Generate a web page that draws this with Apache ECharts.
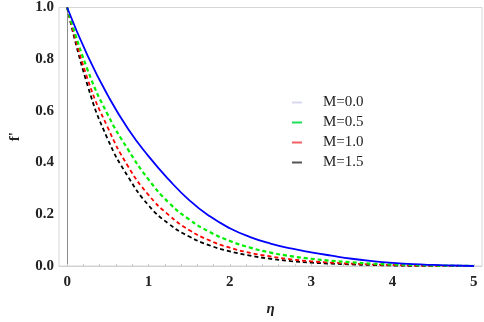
<!DOCTYPE html>
<html>
<head>
<meta charset="utf-8">
<script src="https://cdn.jsdelivr.net/npm/echarts@6/dist/echarts.min.js"></script>
<style>
  html, body { margin: 0; padding: 0; background: #fff; }
  #chart { width: 484px; height: 322px; }
</style>
</head>
<body>
<div id="chart"></div>
<script>
// eta grid and f' values
var eta = [0, 0.25, 0.5, 0.75, 1.0, 1.25, 1.5, 1.75, 2.0, 2.25, 2.5, 2.75, 3.0, 3.25, 3.5, 3.75, 4.0, 4.25, 4.5, 4.75, 5.0];
var fM00 = [1.0, 0.815, 0.66, 0.53, 0.425, 0.334, 0.255, 0.193, 0.146, 0.112, 0.087, 0.068, 0.053, 0.04, 0.028, 0.019, 0.012, 0.007, 0.004, 0.002, 0.0];
var fM05 = [1.0, 0.76, 0.585, 0.45, 0.335, 0.245, 0.18, 0.132, 0.097, 0.071, 0.052, 0.038, 0.028, 0.02, 0.014, 0.009, 0.006, 0.004, 0.002, 0.001, 0.0];
var fM10 = [1.0, 0.725, 0.535, 0.385, 0.275, 0.197, 0.139, 0.099, 0.071, 0.051, 0.037, 0.026, 0.018, 0.013, 0.009, 0.006, 0.004, 0.002, 0.001, 0.0, 0.0];
var fM15 = [1.0, 0.70, 0.49, 0.345, 0.235, 0.163, 0.114, 0.08, 0.057, 0.04, 0.028, 0.019, 0.013, 0.009, 0.006, 0.004, 0.002, 0.001, 0.001, 0.0, 0.0];
var names = ['M=0.0', 'M=0.5', 'M=1.0', 'M=1.5'];
var xLabels = [0, 1, 2, 3, 4, 5];
var xMinor = [0, 0.2, 0.4, 0.6, 0.8, 1, 1.2, 1.4, 1.6, 1.8, 2, 2.2, 2.4, 2.6, 2.8, 3, 3.2, 3.4, 3.6, 3.8, 4, 4.2, 4.4, 4.6, 4.8, 5];

function pairs(ys) {
    return eta.map(function (x, i) { return [x, ys[i]]; });
}

var serif = '"Liberation Serif", "DejaVu Serif", serif';
var chart = echarts.init(document.getElementById('chart'), null, { renderer: 'canvas' });

var option = {
    animation: false,
    grid: {
        left: 43, right: 2, top: 7, bottom: 45,
        show: true, borderColor: '#d6d6d6', borderWidth: 1
    },
    legend: {
        orient: 'vertical',
        left: 287, top: 90,
        itemWidth: 10, itemHeight: 2, itemGap: 5,
        textStyle: { fontFamily: serif, fontSize: 15, color: '#222', padding: [0, 0, 0, 16] },
        data: [
            { name: names[0], icon: 'rect', itemStyle: { color: '#d8d8ee' } },
            { name: names[1], icon: 'rect', itemStyle: { color: '#1fe05a' } },
            { name: names[2], icon: 'rect', itemStyle: { color: '#f46060' } },
            { name: names[3], icon: 'rect', itemStyle: { color: '#555' } }
        ]
    },
    xAxis: {
        type: 'value',
        min: -0.1, max: 5.1,
        name: 'η', nameLocation: 'middle', nameGap: 36,
        nameTextStyle: { fontFamily: serif, fontSize: 15, fontStyle: 'italic', fontWeight: 'bold', color: '#222' },
        axisLine: { show: true, lineStyle: { color: '#d0d0d0', width: 1 } },
        axisTick: { show: true, inside: true, length: 2, customValues: xMinor, lineStyle: { color: '#c8c8c8' } },
        axisLabel: { customValues: xLabels, margin: 9, fontFamily: serif, fontSize: 15, fontWeight: 'bold', color: '#222' },
        splitLine: { show: false }
    },
    yAxis: {
        type: 'value',
        min: 0, max: 1, interval: 0.2,
        name: "f'", nameLocation: 'middle', nameGap: 36, nameRotate: 90,
        nameTextStyle: { fontFamily: serif, fontSize: 15, fontWeight: 'bold', color: '#222' },
        axisLine: { show: true, lineStyle: { color: '#8c8c8c', width: 1 } },
        axisTick: { show: false },
        axisLabel: {
            margin: 5, fontFamily: serif, fontSize: 15, fontWeight: 'bold', color: '#222',
            formatter: function (v) { return v.toFixed(1); }
        },
        splitLine: { show: false }
    },
    series: [
        {
            name: names[3], type: 'line', data: pairs(fM15), showSymbol: false,
            smooth: 0.5, z: 2,
            itemStyle: { color: '#000' },
            lineStyle: { color: '#000', width: 1.8, type: [4, 3] }
        },
        {
            name: names[2], type: 'line', data: pairs(fM10), showSymbol: false,
            smooth: 0.5, z: 3,
            itemStyle: { color: '#ff0000' },
            lineStyle: { color: '#ff0000', width: 1.8, type: [4, 3] }
        },
        {
            name: names[1], type: 'line', data: pairs(fM05), showSymbol: false,
            smooth: 0.5, z: 4,
            itemStyle: { color: '#00ff00' },
            lineStyle: { color: '#00ee00', width: 2.2, type: [4, 3] }
        },
        {
            name: names[0], type: 'line', data: pairs(fM00), showSymbol: false,
            smooth: 0.5, z: 5,
            itemStyle: { color: '#0000ff' },
            lineStyle: { color: '#0000ff', width: 1.8 }
        }
    ]
};

chart.setOption(option);
</script>
</body>
</html>
